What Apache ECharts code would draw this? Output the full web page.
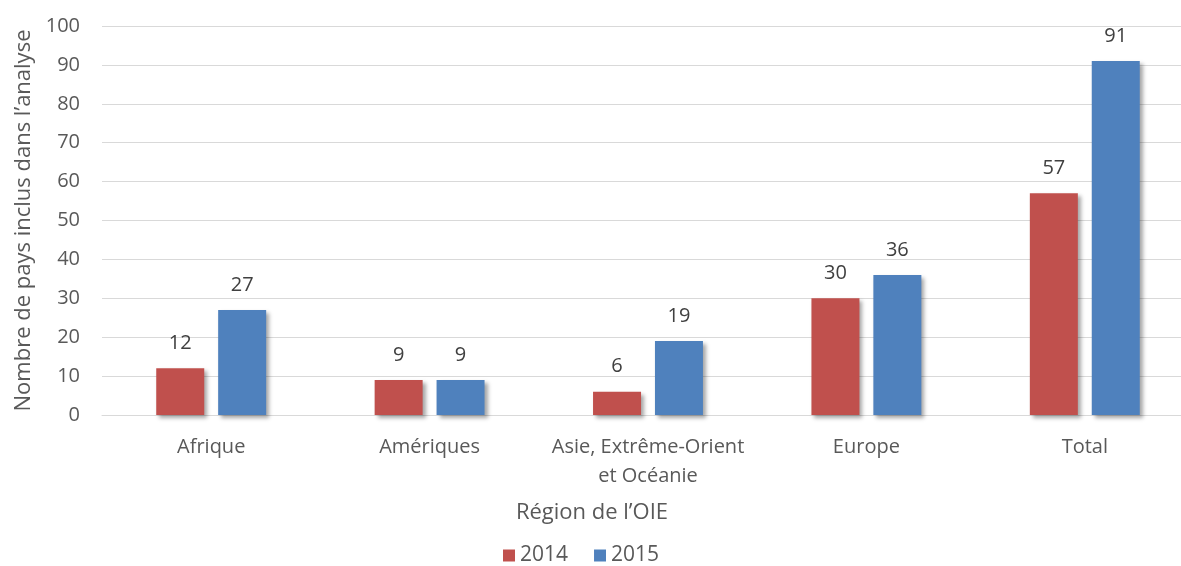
<!DOCTYPE html>
<html>
<head>
<meta charset="utf-8">
<script src="https://cdn.jsdelivr.net/npm/echarts@6/dist/echarts.min.js"></script>
<style>html,body{margin:0;padding:0;background:#fff;overflow:hidden;width:1181px;height:566px;}#c{width:1200px;height:566px;}</style>
</head>
<body>
<div id="c"></div>
<script>
const categories = ['Afrique', 'Amériques', 'Asie, Extrême-Orient\net Océanie', 'Europe', 'Total'];
const values2014 = [12, 9, 6, 30, 57];
const values2015 = [27, 9, 19, 36, 91];
const seriesNames = ['2014', '2015'];
const yTitle = 'Nombre de pays inclus dans l\u2019analyse';
const xTitle = 'Région de l\u2019OIE';

const font = '"Open Sans", "Noto Sans", sans-serif';
const chart = echarts.init(document.getElementById('c'));
const shadow = {shadowColor: 'rgba(0,0,0,0.35)', shadowBlur: 4, shadowOffsetX: 3, shadowOffsetY: 3};
const label = {show: true, position: 'top', distance: 15, color: '#404040', fontSize: 20, fontFamily: font};
chart.setOption({
  animation: false,
  textStyle: {fontFamily: font},
  grid: {left: 102, top: 26, right: 6, bottom: 151, containLabel: false},
  title: {
    text: xTitle, left: 592, top: 502, textAlign: 'center', padding: 0,
    textStyle: {fontSize: 22, color: '#595959', fontWeight: 'normal', fontFamily: font}
  },
  legend: {
    data: seriesNames, bottom: -5, left: 498, itemWidth: 12, itemHeight: 12, itemGap: 26,
    icon: 'rect', textStyle: {fontSize: 21, color: '#595959', fontFamily: font}
  },
  xAxis: {
    type: 'category', data: categories,
    axisLine: {lineStyle: {color: '#D9D9D9', width: 1}},
    axisTick: {show: false},
    axisLabel: {interval: 0, hideOverlap: false, fontSize: 20, color: '#595959', margin: 18, lineHeight: 29, fontFamily: font}
  },
  yAxis: {
    type: 'value', min: 0, max: 100, interval: 10,
    name: yTitle, nameLocation: 'middle', nameGap: 62, nameRotate: 90,
    nameTextStyle: {fontSize: 22, color: '#595959', fontFamily: font},
    axisLine: {show: false}, axisTick: {show: false},
    axisLabel: {fontSize: 20, color: '#595959', margin: 22, fontFamily: font},
    splitLine: {lineStyle: {color: '#D9D9D9', width: 1}}
  },
  series: [
    {name: seriesNames[0], type: 'bar', data: values2014, barWidth: 48, barGap: '29%',
     itemStyle: Object.assign({color: '#C0504D'}, shadow), label: label},
    {name: seriesNames[1], type: 'bar', data: values2015, barWidth: 48, barGap: '29%',
     itemStyle: Object.assign({color: '#4F81BD'}, shadow), label: label}
  ]
});
</script>
</body>
</html>
